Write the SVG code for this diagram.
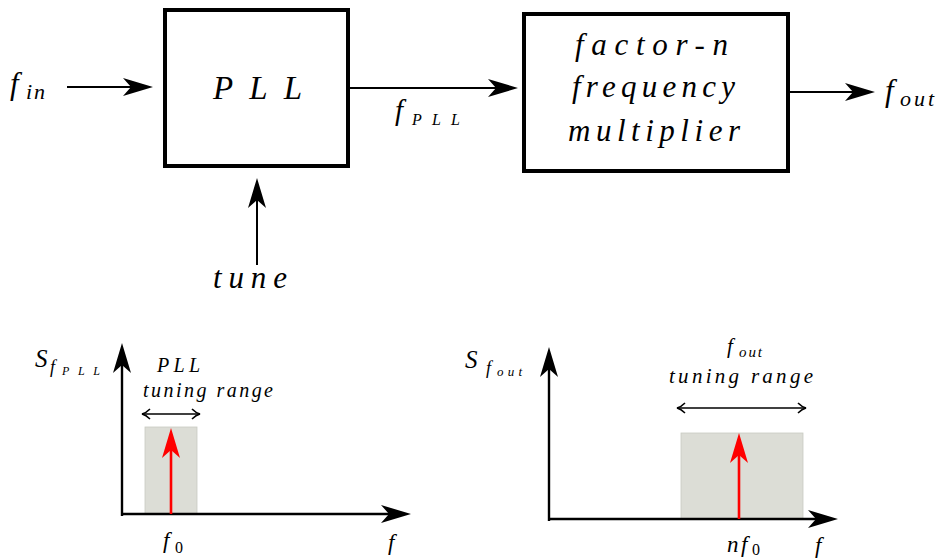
<svg xmlns="http://www.w3.org/2000/svg" width="949" height="560" viewBox="0 0 949 560">
  <defs>
    <style>
      .box { fill: #fff; stroke: #000; stroke-width: 4; }
      .ln { stroke: #000; stroke-width: 2; fill: none; }
      .ax { stroke: #000; stroke-width: 2.4; fill: none; }
      .red { stroke: #ff0000; stroke-width: 2.6; fill: none; }
      .rng { stroke: #000; stroke-width: 1.6; fill: none; }
      .band { fill: #dcddd6; stroke: #c9cac2; stroke-width: 0.8; }
      text { font-family: "Liberation Serif", "DejaVu Serif", serif; font-style: italic; fill: #000; }
      .up { font-style: normal; }
    </style>
    <marker id="ah" markerUnits="userSpaceOnUse" markerWidth="34" markerHeight="22" viewBox="-32 -11 34 22" refX="-10" refY="0" orient="auto">
      <path d="M0,0 L-30,-9 L-22,0 L-30,9 Z" fill="#000"/>
    </marker>
    <marker id="ahr" markerUnits="userSpaceOnUse" markerWidth="34" markerHeight="22" viewBox="-32 -11 34 22" refX="-10" refY="0" orient="auto">
      <path d="M0,0 L-30,-9 L-22,0 L-30,9 Z" fill="#ff0000"/>
    </marker>
    <marker id="oh" markerUnits="userSpaceOnUse" markerWidth="12" markerHeight="14" viewBox="-10 -7 12 14" refX="0" refY="0" orient="auto-start-reverse">
      <path d="M-8,-5 Q-4,-1 0,0 Q-4,1 -8,5" stroke="#000" stroke-width="1.6" fill="none"/>
    </marker>
  </defs>

  <g id="connectors">
    <line class="ln" x1="67" y1="87" x2="143" y2="87" marker-end="url(#ah)"/>
    <line class="ln" x1="350" y1="88" x2="508" y2="88" marker-end="url(#ah)"/>
    <line class="ln" x1="790" y1="92" x2="865" y2="92" marker-end="url(#ah)"/>
    <line class="ln" x1="257" y1="265" x2="257" y2="188" marker-end="url(#ah)"/>
  </g>

  <g id="pll">
    <rect class="box" x="165" y="10" width="183" height="156"/>
    <text x="213" y="99" font-size="33" textLength="89" lengthAdjust="spacing">PLL</text>
  </g>

  <g id="multiplier">
    <rect class="box" x="524" y="14" width="264" height="157"/>
    <text x="575" y="55" font-size="31" textLength="153" lengthAdjust="spacing">factor-n</text>
    <text x="572" y="97" font-size="31" textLength="163" lengthAdjust="spacing">frequency</text>
    <text x="568" y="141" font-size="31" textLength="172" lengthAdjust="spacing">multiplier</text>
  </g>

  <g id="labels">
    <text x="10" y="94" font-size="31">f</text>
    <text x="26" y="99" font-size="22" letter-spacing="2">in</text>
    <text x="213" y="288" font-size="31" textLength="74" lengthAdjust="spacing">tune</text>
    <text x="395" y="120" font-size="29">f</text>
    <text x="412" y="125" font-size="16" textLength="48" lengthAdjust="spacing">PLL</text>
    <text x="885" y="101" font-size="31">f</text>
    <text x="900" y="106" font-size="22" textLength="34" lengthAdjust="spacing">out</text>
  </g>

  <g id="spectrum-pll">
    <rect class="band" x="145" y="427" width="52" height="87"/>
    <line class="ax" x1="122" y1="516" x2="122" y2="353" marker-end="url(#ah)"/>
    <line class="ax" x1="121" y1="514" x2="401" y2="514" marker-end="url(#ah)"/>
    <line class="red" x1="171" y1="514" x2="171" y2="438" marker-end="url(#ahr)"/>
    <line class="rng" x1="142" y1="414" x2="200" y2="414" marker-start="url(#oh)" marker-end="url(#oh)"/>
    <text x="157" y="372" font-size="20" textLength="43" lengthAdjust="spacing">PLL</text>
    <text x="143" y="397" font-size="20" textLength="130" lengthAdjust="spacing">tuning range</text>
    <text x="35" y="367" font-size="25">S</text>
    <text x="50" y="373" font-size="18">f</text>
    <text x="62" y="375" font-size="12" textLength="38" lengthAdjust="spacing">PLL</text>
    <text x="163" y="548" font-size="23">f</text>
    <text class="up" x="175" y="553" font-size="16">0</text>
    <text x="388" y="550" font-size="23">f</text>
  </g>

  <g id="spectrum-out">
    <rect class="band" x="681" y="433" width="122" height="86"/>
    <line class="ax" x1="549" y1="521" x2="549" y2="357" marker-end="url(#ah)"/>
    <line class="ax" x1="548" y1="519" x2="828" y2="519" marker-end="url(#ah)"/>
    <line class="red" x1="739" y1="519" x2="739" y2="443" marker-end="url(#ahr)"/>
    <line class="rng" x1="677" y1="408" x2="806" y2="408" marker-start="url(#oh)" marker-end="url(#oh)"/>
    <text x="727" y="353" font-size="21">f</text>
    <text x="739" y="357" font-size="15" textLength="23" lengthAdjust="spacing">out</text>
    <text x="669" y="383" font-size="21" textLength="144" lengthAdjust="spacing">tuning range</text>
    <text x="465" y="368" font-size="25">S</text>
    <text x="486" y="374" font-size="18">f</text>
    <text x="497" y="376" font-size="13" textLength="25" lengthAdjust="spacing">out</text>
    <text x="727" y="552" font-size="23">n</text>
    <text x="741" y="552" font-size="23">f</text>
    <text class="up" x="752" y="555" font-size="16">0</text>
    <text x="815" y="553" font-size="23">f</text>
  </g>
</svg>
